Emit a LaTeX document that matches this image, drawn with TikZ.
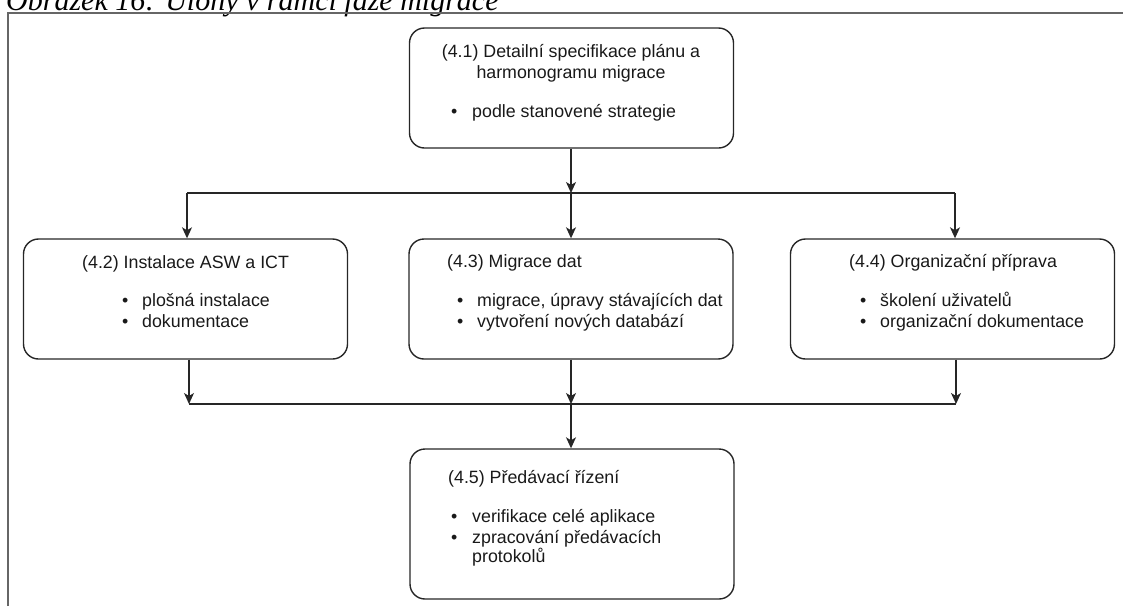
\documentclass[tikz,border=0pt]{standalone}
\usepackage{fontspec}
\setmainfont{Liberation Sans}
\newfontfamily\captionfont{Liberation Serif}
\usetikzlibrary{arrows.meta}

\begin{document}
\begin{tikzpicture}[x=1pt,y=-1pt,
  taskbox/.style={draw=black!85, line width=1.4pt, rounded corners=15pt,
    inner sep=0pt, minimum width=324pt, minimum height=120pt},
  txt/.style={inner sep=0pt, font=\fontsize{17.8}{21}\selectfont, text=black!90},
  lt/.style={txt, anchor=base west},
  ct/.style={txt, anchor=base},
  flow/.style={draw=black!85, line width=1.4pt},
  arr/.style={flow, -{Stealth[length=11pt,width=10pt,inset=3pt]}},
  pageframe/.style={draw=black!60, line width=2pt}]

\useasboundingbox (0,0) rectangle (1123,606);

% caption above the page frame
\node[anchor=base west, inner sep=0pt,
  font=\captionfont\itshape\fontsize{30}{36}\selectfont] (caption)
  at (6,10.5) {Obrázek 16: Úlohy v rámci fáze migrace};
\draw[pageframe] (8,606) -- (8,13) -- (1123,13);

% task boxes
\node[taskbox] (n41) at (571.5,88) {};
\node[taskbox] (n42) at (185.5,299) {};
\node[taskbox] (n43) at (571,299) {};
\node[taskbox] (n44) at (952.5,299) {};
\node[taskbox, minimum height=150pt] (n45) at (572,524) {};

% (4.1)
\node[ct] (t41a) at (571,57) {(4.1) Detailní specifikace plánu a};
\node[ct] (t41b) at (571,78) {harmonogramu migrace};
\node[lt] (b41a) at (451,117) {•};
\node[lt] (i41a) at (472,117) {podle stanovené strategie};

% (4.2)
\node[lt] (t42) at (82,268) {(4.2) Instalace ASW a ICT};
\node[lt] (b42a) at (122,306) {•};
\node[lt] (b42b) at (122,327) {•};
\node[lt] (i42a) at (142,306) {plošná instalace};
\node[lt] (i42b) at (142,327) {dokumentace};

% (4.3)
\node[lt] (t43) at (447,267) {(4.3) Migrace dat};
\node[lt] (b43a) at (457,306) {•};
\node[lt] (b43b) at (457,327) {•};
\node[lt] (i43a) at (477,306) {migrace, úpravy stávajících dat};
\node[lt] (i43b) at (477,327) {vytvoření nových databází};

% (4.4)
\node[lt] (t44) at (849,267) {(4.4) Organizační příprava};
\node[lt] (b44a) at (860,306) {•};
\node[lt] (b44b) at (860,327) {•};
\node[lt] (i44a) at (880,306) {školení uživatelů};
\node[lt] (i44b) at (880,327) {organizační dokumentace};

% (4.5)
\node[lt] (t45) at (448,483) {(4.5) Předávací řízení};
\node[lt] (b45a) at (451,522) {•};
\node[lt] (b45b) at (451,543) {•};
\node[lt] (i45a) at (472,522) {verifikace celé aplikace};
\node[lt] (i45b) at (472,543) {zpracování předávacích};
\node[lt] (i45c) at (472,562) {protokolů};

% split bus
\coordinate (topbus) at (571,193);
\coordinate (topL) at (187,193);
\coordinate (topR) at (955,193);
\draw[arr] (n41.south -| topbus) -- (topbus);
\draw[flow] (topL) -- (topR);
\draw[arr] (topL) -- (topL |- n42.north);
\draw[arr] (topbus) -- (topbus |- n43.north);
\draw[arr] (topR) -- (topR |- n44.north);

% merge bus
\coordinate (botL) at (189,404);
\coordinate (botM) at (571,404);
\coordinate (botR) at (956,404);
\draw[arr] (botL |- n42.south) -- (botL);
\draw[arr] (botM |- n43.south) -- (botM);
\draw[arr] (botR |- n44.south) -- (botR);
\draw[flow] (botL) -- (botR);
\draw[arr] (botM) -- (botM |- n45.north);
\end{tikzpicture}
\end{document}
